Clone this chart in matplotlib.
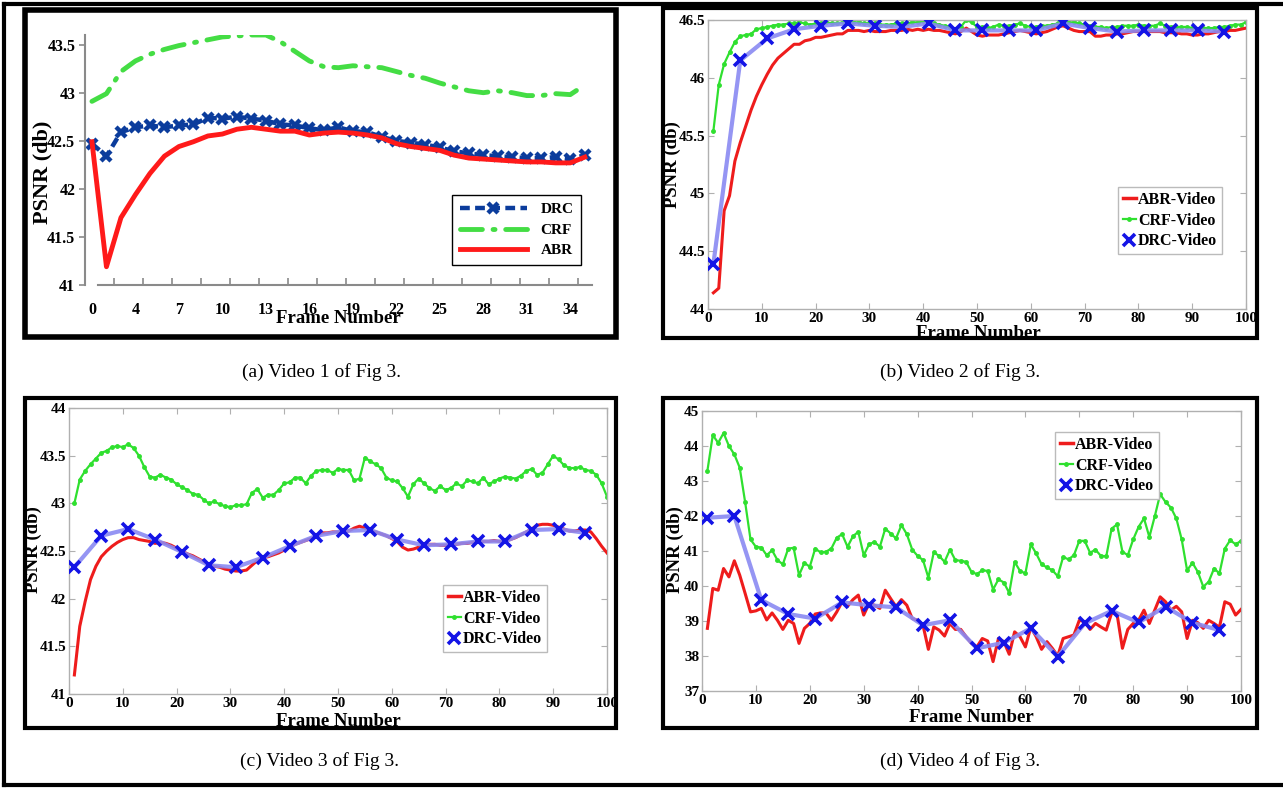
import numpy as np
import matplotlib
matplotlib.use("Agg")
import matplotlib.pyplot as plt
from matplotlib.lines import Line2D
from matplotlib.patches import Rectangle
from matplotlib.ticker import FuncFormatter

plt.rcParams['font.family'] = ['Liberation Serif', 'DejaVu Serif']

# ---------------- data ----------------
# (a) Video 1: 35 frames, category axis
abr_a = [42.49, 41.19, 41.70, 41.94, 42.16, 42.34, 42.44, 42.49, 42.55, 42.57,
         42.62, 42.64, 42.62, 42.60, 42.60, 42.56, 42.58, 42.59, 42.58, 42.56,
         42.53, 42.47, 42.44, 42.42, 42.40, 42.35, 42.32, 42.31, 42.30, 42.29,
         42.28, 42.28, 42.27, 42.27, 42.33]
crf_a = [42.91, 42.99, 43.22, 43.33, 43.40, 43.45, 43.49, 43.52, 43.55, 43.58,
         43.59, 43.60, 43.60, 43.53, 43.43, 43.33, 43.27, 43.26, 43.28, 43.27,
         43.26, 43.22, 43.18, 43.15, 43.10, 43.06, 43.02, 43.00, 43.02, 43.00,
         42.97, 42.97, 42.99, 42.98, 43.08]
drc_a = [42.47, 42.34, 42.59, 42.64, 42.66, 42.64, 42.66, 42.67, 42.74, 42.73,
         42.75, 42.73, 42.71, 42.67, 42.66, 42.63, 42.61, 42.64, 42.60, 42.59,
         42.54, 42.50, 42.48, 42.46, 42.43, 42.39, 42.37, 42.35, 42.34, 42.33,
         42.32, 42.32, 42.33, 42.31, 42.35]
xlabels_a = ['0', '4', '7', '10', '13', '16', '19', '22', '25', '28', '31', '34']

# (b) Video 2: frames 1..100, DRC every 5 frames from 1
abr_b = [44.14, 44.18, 44.85, 44.98, 45.28, 45.44, 45.58, 45.72, 45.84, 45.94,
         46.03, 46.11, 46.17, 46.21, 46.25, 46.29, 46.29, 46.32, 46.33, 46.35,
         46.35, 46.36, 46.37, 46.38, 46.38, 46.41, 46.41, 46.41, 46.40, 46.41,
         46.40, 46.40, 46.40, 46.41, 46.41, 46.41, 46.42, 46.41, 46.42, 46.41,
         46.42, 46.41, 46.41, 46.40, 46.39, 46.38, 46.40, 46.43, 46.40, 46.37,
         46.36, 46.37, 46.37, 46.37, 46.38, 46.39, 46.40, 46.41, 46.40, 46.39,
         46.38, 46.39, 46.40, 46.42, 46.44, 46.45, 46.43, 46.41, 46.40, 46.40,
         46.40, 46.36, 46.36, 46.37, 46.37, 46.38, 46.38, 46.39, 46.40, 46.40,
         46.40, 46.40, 46.40, 46.40, 46.39, 46.39, 46.39, 46.38, 46.38, 46.37,
         46.37, 46.38, 46.38, 46.39, 46.40, 46.40, 46.41, 46.41, 46.42, 46.43]
crf_b = [45.54, 45.94, 46.12, 46.22, 46.31, 46.36, 46.37, 46.38, 46.42, 46.43,
         46.44, 46.45, 46.46, 46.46, 46.47, 46.47, 46.48, 46.47, 46.46, 46.47,
         46.47, 46.48, 46.47, 46.47, 46.48, 46.48, 46.48, 46.48, 46.47, 46.47,
         46.47, 46.46, 46.46, 46.46, 46.47, 46.47, 46.47, 46.48, 46.48, 46.49,
         46.49, 46.47, 46.46, 46.45, 46.44, 46.42, 46.44, 46.50, 46.48, 46.44,
         46.44, 46.43, 46.44, 46.46, 46.45, 46.45, 46.46, 46.47, 46.45, 46.44,
         46.44, 46.45, 46.45, 46.46, 46.47, 46.49, 46.48, 46.48, 46.47, 46.46,
         46.45, 46.44, 46.44, 46.43, 46.44, 46.44, 46.45, 46.45, 46.45, 46.46,
         46.45, 46.45, 46.45, 46.47, 46.45, 46.44, 46.44, 46.44, 46.44, 46.43,
         46.42, 46.43, 46.43, 46.43, 46.44, 46.44, 46.45, 46.46, 46.46, 46.48]
drc_b = [44.39, 46.15, 46.34, 46.42, 46.45, 46.47, 46.45, 46.44, 46.47, 46.41,
         46.41, 46.41, 46.41, 46.47, 46.43, 46.40, 46.41, 46.41, 46.41, 46.40]

# (c) Video 3
abr_c = [41.20, 41.71, 41.97, 42.20, 42.34, 42.44, 42.50, 42.55, 42.59, 42.62,
         42.64, 42.64, 42.62, 42.61, 42.60, 42.58, 42.59, 42.58, 42.56, 42.53,
         42.50, 42.47, 42.45, 42.42, 42.39, 42.36, 42.34, 42.33, 42.31, 42.30,
         42.29, 42.29, 42.30, 42.35, 42.40, 42.43, 42.44, 42.46, 42.48, 42.51,
         42.54, 42.57, 42.59, 42.61, 42.63, 42.66, 42.69, 42.69, 42.70, 42.70,
         42.70, 42.71, 42.74, 42.76, 42.74, 42.71, 42.70, 42.68, 42.66, 42.63,
         42.60, 42.54, 42.51, 42.52, 42.54, 42.56, 42.57, 42.57, 42.56, 42.56,
         42.56, 42.57, 42.58, 42.58, 42.59, 42.60, 42.60, 42.60, 42.61, 42.60,
         42.60, 42.62, 42.64, 42.67, 42.70, 42.73, 42.77, 42.78, 42.78, 42.77,
         42.75, 42.73, 42.71, 42.71, 42.72, 42.72, 42.70, 42.63, 42.55, 42.48]
crf_c = [43.00, 43.25, 43.34, 43.41, 43.47, 43.53, 43.55, 43.59, 43.60, 43.59,
         43.62, 43.58, 43.50, 43.38, 43.28, 43.27, 43.30, 43.27, 43.25, 43.20,
         43.17, 43.14, 43.10, 43.09, 43.04, 43.00, 43.02, 42.99, 42.97, 42.96,
         42.98, 42.98, 42.99, 43.11, 43.15, 43.06, 43.09, 43.09, 43.14, 43.21,
         43.22, 43.27, 43.27, 43.21, 43.29, 43.34, 43.35, 43.35, 43.32, 43.36,
         43.35, 43.35, 43.24, 43.26, 43.48, 43.44, 43.41, 43.37, 43.27, 43.24,
         43.23, 43.16, 43.07, 43.20, 43.26, 43.21, 43.16, 43.13, 43.18, 43.14,
         43.16, 43.21, 43.18, 43.24, 43.23, 43.21, 43.27, 43.20, 43.23, 43.26,
         43.28, 43.27, 43.26, 43.29, 43.34, 43.36, 43.30, 43.32, 43.41, 43.50,
         43.46, 43.40, 43.37, 43.37, 43.38, 43.35, 43.34, 43.30, 43.21, 43.07]
drc_c = [42.33, 42.66, 42.73, 42.62, 42.49, 42.35, 42.33, 42.43, 42.55, 42.66,
         42.71, 42.72, 42.62, 42.56, 42.57, 42.60, 42.60, 42.72, 42.73, 42.69]

# (d) Video 4
abr_d = [38.79, 39.93, 39.88, 40.50, 40.26, 40.72, 40.31, 39.79, 39.26, 39.29,
         39.36, 39.03, 39.23, 39.02, 38.76, 39.02, 38.93, 38.36, 38.79, 38.93,
         39.20, 39.23, 39.23, 39.02, 39.26, 39.55, 39.42, 39.61, 39.74, 39.17,
         39.50, 39.45, 39.36, 39.88, 39.64, 39.41, 39.61, 39.45, 39.07, 39.02,
         38.88, 38.19, 38.83, 38.74, 38.57, 38.93, 38.76, 38.76, 38.55, 38.36,
         38.26, 38.50, 38.43, 37.84, 38.50, 38.41, 38.05, 38.69, 38.55, 38.26,
         38.82, 38.55, 38.19, 38.41, 38.22, 38.00, 38.50, 38.55, 38.60, 39.02,
         38.98, 38.76, 38.93, 38.83, 38.74, 39.23, 39.20, 38.22, 38.76, 38.93,
         39.02, 39.31, 38.93, 39.31, 39.69, 39.55, 39.31, 39.42, 39.26, 38.50,
         39.02, 38.95, 38.79, 39.02, 38.93, 38.82, 39.55, 39.48, 39.17, 39.33]
crf_d = [43.29, 44.31, 44.09, 44.37, 44.00, 43.76, 43.38, 42.40, 41.33, 41.12,
         41.10, 40.88, 41.02, 40.74, 40.62, 41.07, 41.09, 40.31, 40.66, 40.55,
         41.07, 40.96, 40.98, 41.07, 41.38, 41.48, 41.12, 41.42, 41.55, 40.88,
         41.19, 41.26, 41.12, 41.64, 41.50, 41.36, 41.74, 41.48, 41.04, 40.86,
         40.74, 40.24, 40.96, 40.86, 40.69, 41.04, 40.74, 40.72, 40.69, 40.40,
         40.34, 40.45, 40.43, 39.90, 40.19, 40.10, 39.80, 40.69, 40.43, 40.36,
         41.19, 40.93, 40.62, 40.53, 40.45, 40.28, 40.83, 40.76, 40.88, 41.29,
         41.29, 40.95, 41.04, 40.86, 40.85, 41.64, 41.76, 40.98, 40.88, 41.33,
         41.69, 41.93, 41.40, 41.99, 42.62, 42.40, 42.24, 41.93, 41.33, 40.45,
         40.66, 40.40, 39.98, 40.12, 40.50, 40.36, 41.07, 41.31, 41.19, 41.29]
drc_d = [41.95, 42.00, 39.60, 39.20, 39.07, 39.53, 39.45, 39.39, 38.88, 39.02,
         38.22, 38.38, 38.79, 37.98, 38.93, 39.29, 38.96, 39.41, 38.95, 38.74]

series_names = ['ABR-Video', 'CRF-Video', 'DRC-Video']
captions = ['(a) Video 1 of Fig 3.', '(b) Video 2 of Fig 3.',
            '(c) Video 3 of Fig 3.', '(d) Video 4 of Fig 3.']

# ---------------- layout helpers (pixel coords of the 1283x788 page) ----------------
W, H = 1283, 788


def fx(x):
    return x / W


def fy(y):
    return 1 - y / H


def box(l, t, r, b):
    return [fx(l), fy(b), (r - l) / W, (b - t) / H]


RED = '#ee1c1c'
GREEN = '#2fe02f'
BLUE_LINE = '#8a8af2'
BLUE_MARK = '#1414e6'
GRAY = '#b0b0b0'
fmt = FuncFormatter(lambda v, p: '%g' % v)

fig = plt.figure(figsize=(W / 100, H / 100), dpi=100)

# page frame and the four picture frames
for xs, ys in [([4, 4], [4, 785]), ([4, W], [4, 4]), ([4, W], [785, 785])]:
    fig.add_artist(Line2D([fx(v) for v in xs], [fy(v) for v in ys], color='black', lw=3))
for (l, t, r, b), lw in [((25, 10, 616, 337), 4), ((663, 8, 1257, 338), 3),
                         ((25, 398, 616, 728), 3), ((663, 398, 1257, 728), 3)]:
    fig.add_artist(Rectangle((fx(l), fy(b)), (r - l) / W, (b - t) / H, transform=fig.transFigure,
                             fill=False, ec='black', lw=lw))

# ---------------- (a) ----------------
ax = fig.add_axes(box(85, 35, 592, 285))
xa = np.arange(len(abr_a))
l_drc, = ax.plot(xa, drc_a, color='#0b3c9c', lw=3.2, dashes=(2.2, 1.2), marker='x', ms=7.5, mew=3.2)
l_crf, = ax.plot(xa, crf_a, color='#44dd44', lw=3.5, dashes=(4.5, 2.2, 0.4, 2.2), dash_capstyle='round')
l_abr, = ax.plot(xa, abr_a, color='#ff1a1a', lw=3.5, solid_joinstyle='round')
ax.set_xlim(-0.48, 34.5)
ax.set_ylim(41, 43.6)
for s in ['top', 'right']:
    ax.spines[s].set_visible(False)
for s in ['left', 'bottom']:
    ax.spines[s].set_color('#8a8a8a')
    ax.spines[s].set_linewidth(1.5)
ax.spines['bottom'].set_bounds(0.4, 34.5)
ax.set_yticks(np.arange(41, 43.51, 0.5))
ax.yaxis.set_major_formatter(fmt)
ax.set_xticks(np.arange(0, 34, 3))
ax.set_xticklabels(xlabels_a)
ax.set_xticks(np.arange(1.5, 34, 2), minor=True)
ax.tick_params(axis='x', which='major', length=0, pad=12)
ax.tick_params(axis='x', which='minor', direction='in', length=5, color='#8a8a8a', width=1.2)
ax.tick_params(axis='y', direction='out', length=4, color='#8a8a8a', width=1.2, pad=3)
for t in ax.get_xticklabels() + ax.get_yticklabels():
    t.set_fontweight('bold')
    t.set_fontsize(11.5)
ax.patch.set_alpha(0)
fig.text(fx(42), fy(172), 'PSNR (db)', rotation=90, ha='center', va='center',
         fontsize=16, fontweight='bold')
fig.text(fx(338), fy(318), 'Frame Number', ha='center', va='center', fontsize=13.5, fontweight='bold')
fig.legend([l_drc, l_crf, l_abr], ['DRC', 'CRF', 'ABR'], loc='upper left',
           bbox_to_anchor=(fx(452), fy(195)), bbox_transform=fig.transFigure,
           frameon=True, fancybox=False, edgecolor='black', framealpha=1,
           prop={'weight': 'bold', 'size': 11}, handlelength=4.4, handletextpad=0.9,
           labelspacing=0.45, borderpad=0.5, borderaxespad=0)


# ---------------- (b), (c), (d) ----------------
def matlab_panel(rect, abr, crf, drc, ylim, ystep, ylab_xy, xlab_xy, leg_xy):
    ax = fig.add_axes(box(*rect))
    x = np.arange(1, len(abr) + 1)
    xd = np.arange(1, 5 * len(drc), 5)
    ax.plot(x, abr, color=RED, lw=2.2, zorder=3)
    ax.plot(x, crf, color=GREEN, lw=1.6, marker='.', ms=5, zorder=2)
    ax.plot(xd, drc, color=BLUE_LINE, lw=3, alpha=0.9, zorder=4)
    ax.plot(xd, drc, ls='none', marker='x', ms=9, mew=2.6, color=BLUE_MARK, zorder=5)
    ax.set_xlim(0, 100)
    ax.set_ylim(*ylim)
    ax.set_xticks(np.arange(0, 101, 10))
    ax.set_yticks(np.arange(ylim[0], ylim[1] + 1e-6, ystep))
    ax.xaxis.set_major_formatter(fmt)
    ax.yaxis.set_major_formatter(fmt)
    for s in ax.spines.values():
        s.set_color(GRAY)
        s.set_linewidth(1)
    ax.tick_params(direction='in', length=4, color=GRAY, top=True, right=True, pad=2)
    for t in ax.get_xticklabels() + ax.get_yticklabels():
        t.set_fontweight('bold')
        t.set_fontsize(11)
    fig.text(fx(ylab_xy[0]), fy(ylab_xy[1]), 'PSNR (db)', rotation=90, ha='center', va='center',
             fontsize=13.5, fontweight='bold')
    fig.text(fx(xlab_xy[0]), fy(xlab_xy[1]), 'Frame Number', ha='center', va='center',
             fontsize=13.5, fontweight='bold')
    handles = [Line2D([], [], color=RED, lw=2.5),
               Line2D([], [], color=GREEN, lw=1.6, marker='.', ms=5),
               Line2D([], [], ls='none', marker='x', ms=8, mew=2.6, color=BLUE_MARK)]
    fig.legend(handles, series_names, loc='upper left',
               bbox_to_anchor=(fx(leg_xy[0]), fy(leg_xy[1])), bbox_transform=fig.transFigure,
               frameon=True, fancybox=False, edgecolor='#bbbbbb', framealpha=1,
               prop={'weight': 'bold', 'size': 11.5}, handlelength=0.8, handletextpad=0.15,
               labelspacing=0.3, borderpad=0.3, borderaxespad=0)
    return ax


matlab_panel((708, 20, 1246, 309), abr_b, crf_b, drc_b, (44, 46.5), 0.5,
             (672, 165), (978, 333), (1118, 187))
matlab_panel((69, 408, 607, 694), abr_c, crf_c, drc_c, (41, 44), 0.5,
             (33, 550), (338, 722), (443, 585))
matlab_panel((702, 411, 1241, 691), abr_d, crf_d, drc_d, (37, 45), 1,
             (675, 550), (971, 718), (1055, 432))

# captions
for text, (cx, cy) in zip(captions, [(322, 372), (960, 372), (320, 761), (960, 761)]):
    fig.text(fx(cx), fy(cy), text, ha='center', va='center', fontsize=14)

fig.savefig('out.png', dpi=100)
